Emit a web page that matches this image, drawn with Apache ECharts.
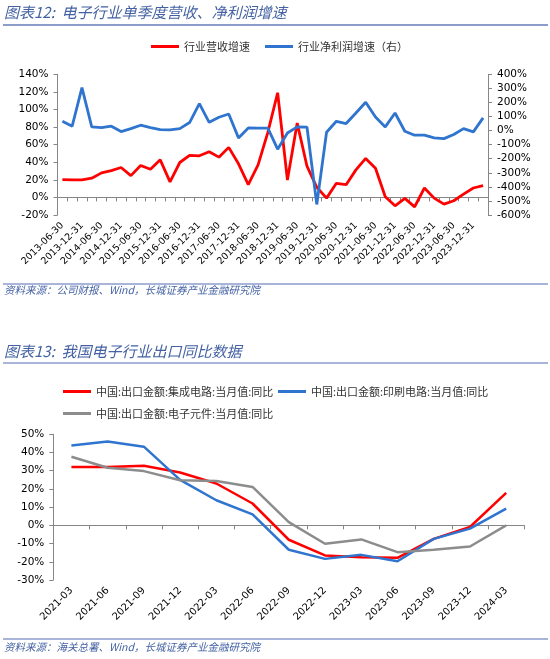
<!DOCTYPE html>
<html>
<head>
<meta charset="utf-8">
<title>电子行业营收、净利润增速及出口同比</title>
<script src="https://cdn.jsdelivr.net/npm/echarts@6/dist/echarts.min.js"></script>
<style>
html, body { margin: 0; padding: 0; background: #fff; }
#main { width: 550px; height: 659px; }
</style>
</head>
<body>
<div id="main"></div>
<script>
// 图表12：单季度营收、净利润增速（%）
var quarters = [
    '2013-06-30', '2013-09-30', '2013-12-31', '2014-03-31',
    '2014-06-30', '2014-09-30', '2014-12-31', '2015-03-31',
    '2015-06-30', '2015-09-30', '2015-12-31', '2016-03-31',
    '2016-06-30', '2016-09-30', '2016-12-31', '2017-03-31',
    '2017-06-30', '2017-09-30', '2017-12-31', '2018-03-31',
    '2018-06-30', '2018-09-30', '2018-12-31', '2019-03-31',
    '2019-06-30', '2019-09-30', '2019-12-31', '2020-03-31',
    '2020-06-30', '2020-09-30', '2020-12-31', '2021-03-31',
    '2021-06-30', '2021-09-30', '2021-12-31', '2022-03-31',
    '2022-06-30', '2022-09-30', '2022-12-31', '2023-03-31',
    '2023-06-30', '2023-09-30', '2023-12-31', '2024-03-31'
];
var revGrowth = [
    20.2, 20, 20, 21.8, 27.9, 30.5, 34, 24.8, 36.3, 32,
    42.7, 17.6, 39.7, 47.7, 47.3, 52, 45.8, 56.9, 38.2, 14.5,
    37, 74, 119, 19.8, 84.5, 35.5, 11.5, -0.8, 16, 14.5,
    31.3, 44.3, 33.2, 0.8, -9.5, -1.1, -10.7, 10.7, -0.8, -7.6,
    -3.8, 3.8, 10.7, 13.4
];
var profitGrowth = [
    66, 31, 305, 26, 21, 31, -7, 14, 38, 21,
    7, 5, 14, 57, 191, 59, 95, 118, -52, 19,
    17, 17, -132, -17, 26, 24, -525, -12, 66, 50,
    125, 201, 97, 26, 125, -5, -33, -33, -52, -57,
    -28, 14, -9, 90
];

// 图表13：出口金额当月同比（%）
var months = [
    '2021-03', '2021-06', '2021-09', '2021-12', '2022-03', '2022-06', '2022-09',
    '2022-12', '2023-03', '2023-06', '2023-09', '2023-12', '2024-03'
];
var icExport = [32, 32, 32.7, 29, 23, 12, -7.9, -16.5, -17.5, -17.8, -7.4, -0.9, 17.8];
var pcbExport = [43.9, 46, 43.2, 25, 13.8, 6, -13.4, -18.4, -16.2, -19.7, -7.4, -1.8, 9.2];
var compExport = [37.7, 31.6, 29.8, 24.8, 24.3, 21.1, 1.8, -10.1, -7.7, -14.7, -13.4, -11.6, 0];

var names = {
    rev: '行业营收增速',
    profit: '行业净利润增速（右）',
    ic: '中国:出口金额:集成电路:当月值:同比',
    pcb: '中国:出口金额:印刷电路:当月值:同比',
    comp: '中国:出口金额:电子元件:当月值:同比'
};

var BLUE_TEXT = '#4462A3';
var RULE = '#8C9DCB';
var AXIS_GRAY = '#868686';
var NUM_FONT = 'DejaVu Sans';
var CJK_FONT = 'Noto Sans CJK SC';

// 坐标轴样式
function valueAxis(grid, pos, min, max, step) {
    return {
        type: 'value', gridIndex: grid, position: pos,
        min: min, max: max, interval: step,
        axisLine: { show: true, lineStyle: { color: AXIS_GRAY } },
        axisTick: { show: true, length: 4, lineStyle: { color: AXIS_GRAY } },
        splitLine: { show: false },
        axisLabel: { formatter: '{value}%', color: '#000', fontFamily: NUM_FONT, fontSize: 10.5, margin: 9 }
    };
}
function lineAxis(grid, cats, zeroIdx) {
    return {
        type: 'category', gridIndex: grid, data: cats, position: 'bottom',
        axisLine: { onZero: true, onZeroAxisIndex: zeroIdx, lineStyle: { color: AXIS_GRAY } },
        axisTick: { show: true, interval: 0, length: 4, lineStyle: { color: AXIS_GRAY } },
        axisLabel: { show: false }
    };
}
function labelAxis(grid, cats, every, size) {
    return {
        type: 'category', gridIndex: grid, data: cats, position: 'bottom',
        axisLine: { show: false, onZero: false },
        axisTick: { show: false },
        axisLabel: { interval: every, rotate: 45, margin: 9, color: '#000', fontFamily: NUM_FONT, fontSize: size }
    };
}
function lineSeries(name, xi, yi, data, color, w) {
    return {
        name: name, type: 'line', xAxisIndex: xi, yAxisIndex: yi, data: data,
        symbol: 'none', color: color, lineStyle: { width: w, color: color }
    };
}
function oneLegend(name, left, top) {
    return {
        data: [name], left: left, top: top, padding: 0,
        icon: 'rect', itemWidth: 28, itemHeight: 3, itemGap: 0,
        textStyle: { fontFamily: CJK_FONT, fontSize: 11, color: '#333' }
    };
}
function rule(y, w) {
    return { type: 'line', shape: { x1: 3, y1: y, x2: 548, y2: y }, style: { stroke: RULE, lineWidth: w } };
}
function heading(text, top, size) {
    return {
        text: text, left: 4, top: top, padding: 0,
        textStyle: { fontFamily: CJK_FONT, fontStyle: 'italic', fontWeight: 'normal', fontSize: size, color: BLUE_TEXT }
    };
}

var opt = {
    animation: false,
    backgroundColor: '#fff',
    title: [
        heading('图表12:  电子行业单季度营收、净利润增速', 5, 15),
        heading('资料来源：公司财报、Wind，长城证券产业金融研究院', 285, 10.5),
        heading('图表13:  我国电子行业出口同比数据', 344, 15),
        heading('资料来源：海关总署、Wind，长城证券产业金融研究院', 642, 10.5)
    ],
    graphic: [rule(25, 2), rule(284, 1.5), rule(363, 1.5), rule(639, 1.5)],
    legend: [
        oneLegend(names.rev, 151, 41),
        oneLegend(names.profit, 265, 41),
        oneLegend(names.ic, 63, 386),
        oneLegend(names.pcb, 278, 386),
        oneLegend(names.comp, 63, 408)
    ],
    grid: [
        { left: 57.5, top: 74.3, width: 430.5, height: 140.7 },
        { left: 53.3, top: 434.3, width: 471, height: 145.7 }
    ],
    xAxis: [
        lineAxis(0, quarters, 0),
        labelAxis(0, quarters, 1, 9.5),
        lineAxis(1, months, 2),
        labelAxis(1, months, 0, 10)
    ],
    yAxis: [
        valueAxis(0, 'left', -20, 140, 20),
        valueAxis(0, 'right', -600, 400, 100),
        valueAxis(1, 'left', -30, 50, 10)
    ],
    series: [
        lineSeries(names.rev, 0, 0, revGrowth, '#FF0000', 2.8),
        lineSeries(names.profit, 0, 1, profitGrowth, '#2F74CE', 2.8),
        lineSeries(names.ic, 2, 2, icExport, '#FF0000', 2.5),
        lineSeries(names.pcb, 2, 2, pcbExport, '#2F74CE', 2.5),
        lineSeries(names.comp, 2, 2, compExport, '#8C8C8C', 2.5)
    ]
};

function setOption(ident, opt) {
    // 初始化实例并绘制
    var myChart = echarts.init(document.getElementById(ident));
    myChart.setOption(opt);
}
setOption('main', opt);
</script>
</body>
</html>
